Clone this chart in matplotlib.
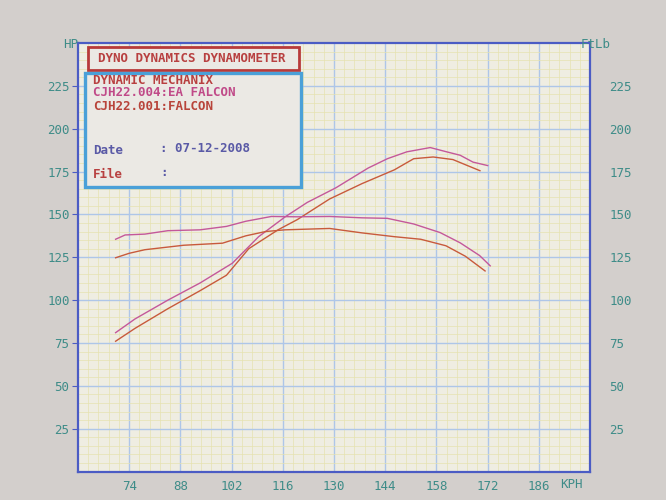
import numpy as np
import matplotlib.pyplot as plt
from matplotlib.patches import Rectangle

# dyno run values (speed in KPH)
kph_hp_ea = [70.3, 75.6, 84.6, 93.4, 102.2, 109.4, 116.6, 122.7, 130.5, 139.3,
             144.6, 149.9, 156.3, 160.8, 164.5, 168.0, 172.0]
hp_ea = [81, 89, 100, 110, 121.5, 137, 148.5, 157, 165.5, 177,
         182.5, 186.5, 189, 186.5, 184.5, 180.5, 178.5]

kph_hp_f = [70.3, 75.6, 84.6, 93.4, 100.6, 106.7, 114.7, 120.0, 128.8, 137.7,
            146.5, 151.8, 157.1, 162.5, 165.9, 169.9]
hp_f = [76, 83.5, 95, 105.5, 114.5, 130, 141, 147, 159, 168,
        176, 182.5, 183.5, 182, 179, 175.5]

kph_tq_ea = [70.3, 72.9, 78.3, 84.6, 93.4, 100.6, 105.9, 112.9, 120.0, 128.8,
             137.7, 144.6, 151.8, 159.0, 164.5, 169.8, 172.7]
tq_ea = [135.5, 138, 138.5, 140.5, 141, 143, 146, 148.8, 148.6, 148.8,
         148, 147.7, 144.4, 139.4, 133.4, 126, 120]

kph_tq_f = [70.3, 74.0, 78.3, 88.9, 99.5, 105.9, 111.3, 116.6, 128.8, 137.7,
            146.5, 153.7, 160.6, 165.9, 171.3]
tq_f = [124.7, 127.3, 129.4, 132, 133.2, 137.5, 140, 141, 141.8, 139.2,
        137, 135.5, 131.7, 125.6, 117]

x_ticks = [74, 88, 102, 116, 130, 144, 158, 172, 186]
y_ticks = [25, 50, 75, 100, 125, 150, 175, 200, 225]

magenta = '#c4589a'
orange = '#c85a3c'
teal = '#3e8c88'
frame_blue = '#4b5cc4'
mono = 'DejaVu Sans Mono'

fig = plt.figure(figsize=(6.66, 5), dpi=100, facecolor='#d3cfcc')
ax = fig.add_axes([0.117, 0.057, 0.769, 0.857])
ax.set_facecolor('#efede2')

ax.set_xlim(60, 200)
ax.set_ylim(0, 250)

# minor yellow grid, major blue grid
ax.set_xticks(np.arange(60, 200.1, 2.8), minor=True)
ax.set_yticks(np.arange(0, 250.1, 5), minor=True)
ax.set_xticks(x_ticks)
ax.set_yticks(y_ticks)
ax.grid(which='minor', color='#e6e2b0', linewidth=0.5)
ax.grid(which='major', color='#aec6e8', linewidth=1.0)
ax.set_axisbelow(True)
ax.tick_params(which='minor', length=0)
ax.tick_params(axis='x', length=0, pad=6, labelcolor=teal, labelsize=9)
ax.tick_params(axis='y', length=4, color=frame_blue, pad=2, labelcolor=teal, labelsize=9)
for lab in ax.get_xticklabels() + ax.get_yticklabels():
    lab.set_family(mono)

for sp in ax.spines.values():
    sp.set_color(frame_blue)
    sp.set_linewidth(1.6)

# right hand torque scale
ax2 = ax.twinx()
ax2.set_ylim(0, 250)
ax2.set_yticks(y_ticks)
ax2.tick_params(axis='y', length=0, pad=14, labelcolor=teal, labelsize=9)
for lab in ax2.get_yticklabels():
    lab.set_family(mono)
for sp in ax2.spines.values():
    sp.set_visible(False)

# curves
ax.plot(kph_hp_ea, hp_ea, color=magenta, linewidth=1.0)
ax.plot(kph_hp_f, hp_f, color=orange, linewidth=1.0)
ax.plot(kph_tq_ea, tq_ea, color=magenta, linewidth=1.0)
ax.plot(kph_tq_f, tq_f, color=orange, linewidth=1.0)

# axis names
fig.text(0.095, 0.905, 'HP', color=teal, family=mono, fontsize=9)
fig.text(0.872, 0.905, 'FtLb', color=teal, family=mono, fontsize=9)
ax.text(195, -4, 'KPH', color=teal, family=mono, fontsize=9,
        ha='center', va='top', clip_on=False)

# header boxes drawn in figure pixels
W, H = 666, 500
def box(x0, y0, x1, y1, edge, lw):
    fig.patches.append(Rectangle((x0 / W, 1 - y1 / H), (x1 - x0) / W, (y1 - y0) / H,
                                 transform=fig.transFigure, facecolor='#ebe9e4',
                                 edgecolor=edge, linewidth=lw, zorder=5))

box(88, 47, 299, 70, '#b83a3a', 2.0)
box(85, 73, 301, 187, '#4aa0d8', 2.4)

def txt(x, y, s, c):
    fig.text(x / W, 1 - y / H, s, color=c, family=mono, fontsize=9,
             fontweight='bold', va='center', zorder=6)

txt(98, 58, 'DYNO DYNAMICS DYNAMOMETER', '#b84040')
txt(93, 80, 'DYNAMIC MECHANIX', '#b84040')
txt(93, 93, 'CJH22.004:EA FALCON', '#c04a88')
txt(93, 106, 'CJH22.001:FALCON', '#b8443a')
txt(93, 151, 'Date', '#5a5aa6')
txt(160, 149, ': 07-12-2008', '#5a5aa6')
txt(93, 174, 'File', '#b84040')
txt(160, 172, ':', '#5a5aa6')

fig.savefig('out.png', dpi=100, facecolor=fig.get_facecolor())
